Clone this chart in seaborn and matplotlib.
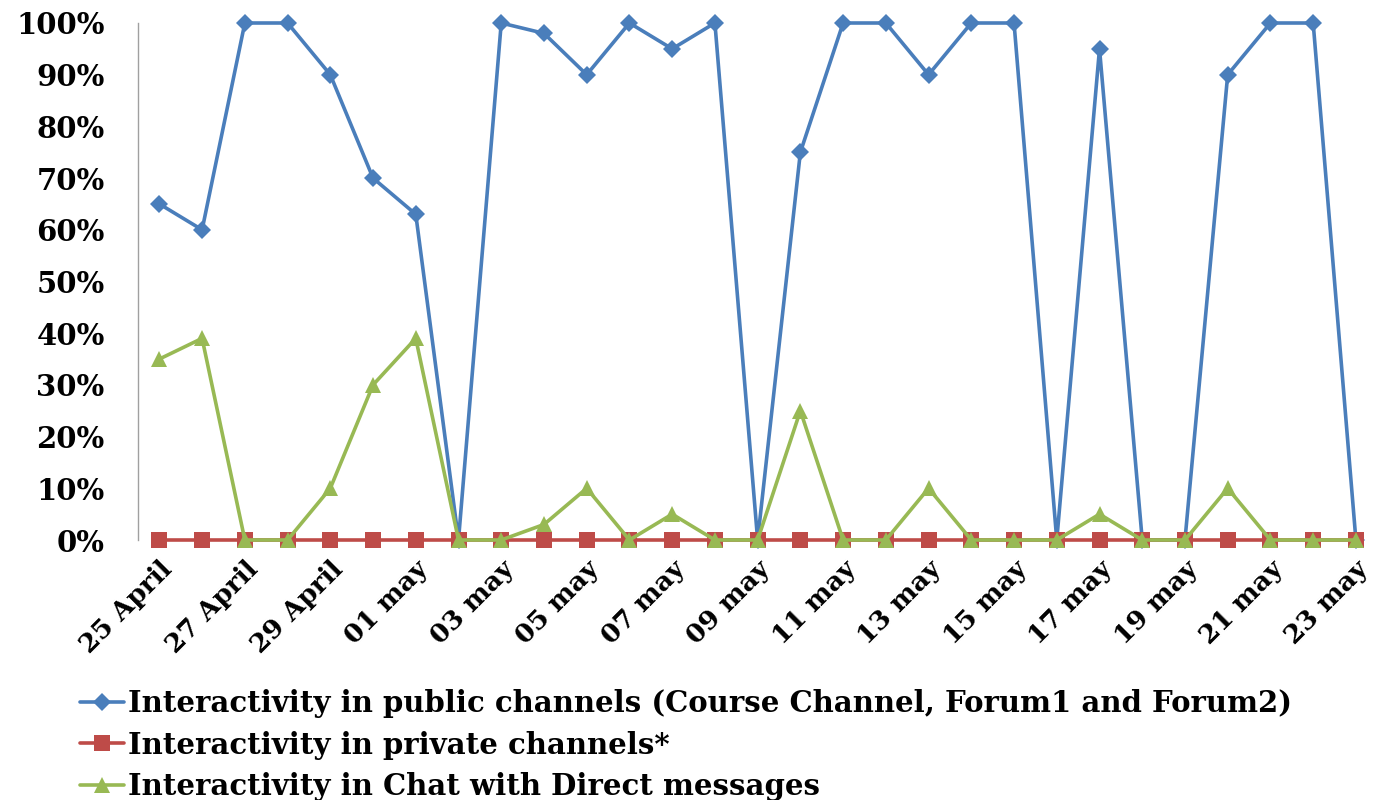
import seaborn as sns
import numpy as np
import matplotlib.pyplot as plt
import pandas as pd

# dates on the category axis (one per day)
dates = ["25 April", "26 April", "27 April", "28 April", "29 April", "30 April",
         "01 may", "02 may", "03 may", "04 may", "05 may", "06 may", "07 may",
         "08 may", "09 may", "10 may", "11 may", "12 may", "13 may", "14 may",
         "15 may", "16 may", "17 may", "18 may", "19 may", "20 may", "21 may",
         "22 may", "23 may"]

# percentages
public = [65, 60, 100, 100, 90, 70, 63, 0, 100, 98, 90, 100, 95, 100, 0,
          75, 100, 100, 90, 100, 100, 0, 95, 0, 0, 90, 100, 100, 0]
private = [0] * 29
chat = [35, 39, 0, 0, 10, 30, 39, 0, 0, 3, 10, 0, 5, 0, 0,
        25, 0, 0, 10, 0, 0, 0, 5, 0, 0, 10, 0, 0, 0]

labels = ["Interactivity in public channels (Course Channel, Forum1 and Forum2)",
          "Interactivity in private channels*",
          "Interactivity in Chat with Direct messages"]

df = pd.DataFrame({"idx": np.arange(len(dates)),
                   "public": np.array(public) / 100,
                   "private": np.array(private) / 100,
                   "chat": np.array(chat) / 100})

sns.set_style("white")
plt.rcParams['font.family'] = ['DejaVu Serif']
plt.rcParams['text.color'] = 'black'
plt.rcParams['xtick.color'] = 'black'
plt.rcParams['ytick.color'] = 'black'

fig = plt.figure(figsize=(13.73, 8), dpi=100)
ax = fig.add_axes([138 / 1373, 1 - 540 / 800, 1235 / 1373, 517 / 800])

sns.lineplot(data=df, x="idx", y="public", ax=ax, color="#4A7EBB", marker="D",
             markersize=9, markeredgewidth=0, linewidth=2.6, label=labels[0],
             clip_on=False, zorder=3)
sns.lineplot(data=df, x="idx", y="private", ax=ax, color="#BE4B48", marker="s",
             markersize=11, markeredgewidth=0, linewidth=2.6, label=labels[1],
             clip_on=False, zorder=4)
sns.lineplot(data=df, x="idx", y="chat", ax=ax, color="#98B954", marker="^",
             markersize=11, markeredgewidth=0, linewidth=2.6, label=labels[2],
             clip_on=False, zorder=5)

ax.set_xlim(-0.5, 28.4)
ax.set_ylim(0, 1)
ax.set_yticks(np.arange(0, 1.01, 0.1))
ax.set_yticklabels([f"{int(round(v * 100))}%" for v in np.arange(0, 1.01, 0.1)],
                   fontsize=21, fontweight="bold")
ax.set_xticks(range(0, len(dates), 2))
ax.set_xticklabels(dates[::2], rotation=45, ha="right", rotation_mode="anchor",
                   fontsize=19, fontweight="bold")
ax.tick_params(axis="both", length=0)
ax.tick_params(axis="y", pad=24)
ax.tick_params(axis="x", pad=12)
ax.set_xlabel("")
ax.set_ylabel("")

for s in ["top", "right", "bottom"]:
    ax.spines[s].set_visible(False)
ax.spines["left"].set_color("#A0A0A0")
ax.spines["left"].set_linewidth(1)

ax.get_legend().remove()
handles, labs = ax.get_legend_handles_labels()
fig.legend(handles, labs, loc="upper left", bbox_to_anchor=(0.05, 0.153),
           frameon=False, handlelength=1.5, handletextpad=0.15, labelspacing=0.42,
           borderaxespad=0, prop={"size": 21, "weight": "bold"})

fig.savefig("out.png", dpi=100)
